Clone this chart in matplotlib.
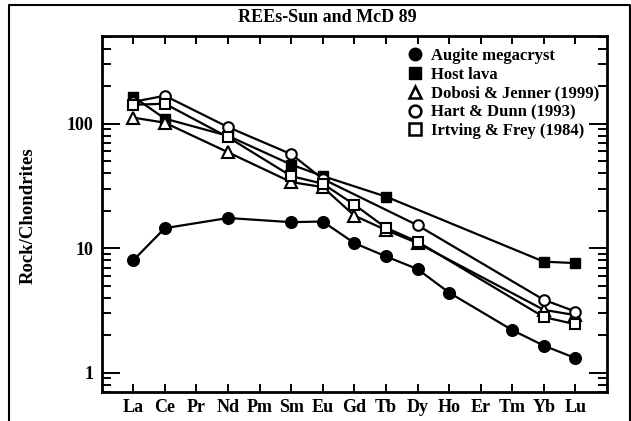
import matplotlib
matplotlib.use('Agg')
import matplotlib.pyplot as plt
from matplotlib.lines import Line2D
from matplotlib.ticker import LogLocator, NullFormatter, FixedLocator

plt.rcParams['font.family'] = ['Liberation Serif', 'DejaVu Serif']
plt.rcParams['font.weight'] = 'bold'

# 稀土元素顺序
elements = ['La', 'Ce', 'Pr', 'Nd', 'Pm', 'Sm', 'Eu', 'Gd', 'Tb', 'Dy', 'Ho', 'Er', 'Tm', 'Yb', 'Lu']

augite_el = ['La', 'Ce', 'Nd', 'Sm', 'Eu', 'Gd', 'Tb', 'Dy', 'Ho', 'Tm', 'Yb', 'Lu']
augite = [8.0, 14.5, 17.5, 16.2, 16.4, 11.0, 8.6, 6.8, 4.4, 2.2, 1.65, 1.31]

host_el = ['La', 'Ce', 'Nd', 'Sm', 'Eu', 'Tb', 'Yb', 'Lu']
host = [165, 110, 80, 47, 38, 26, 7.8, 7.6]

dobosi_el = ['La', 'Ce', 'Nd', 'Sm', 'Eu', 'Gd', 'Tb', 'Dy', 'Yb', 'Lu']
dobosi = [112, 102, 59, 34, 31, 18.3, 14.0, 11.0, 3.2, 2.9]

hart_el = ['La', 'Ce', 'Nd', 'Sm', 'Eu', 'Dy', 'Yb', 'Lu']
hart = [150, 168, 94, 57, 36, 15.3, 3.85, 3.1]

irving_el = ['La', 'Ce', 'Nd', 'Sm', 'Eu', 'Gd', 'Tb', 'Dy', 'Yb', 'Lu']
irving = [142, 145, 78, 38, 33, 22.4, 14.6, 11.3, 2.8, 2.45]

labels = ['Augite megacryst', 'Host lava', 'Dobosi & Jenner (1999)',
          'Hart & Dunn (1993)', 'Irtving & Frey (1984)']


def pos(names):
    return [elements.index(n) + 1 for n in names]


W, H = 631, 421
fig = plt.figure(figsize=(W / 100, H / 100), dpi=100)
ax = fig.add_axes([101.7 / W, 1 - 392 / H, (607 - 101.7) / W, (392 - 35.7) / H])

lw = 1.6
ax.plot(pos(augite_el), augite, '-o', color='k', lw=lw, ms=8.4, mfc='k', mec='k')
ax.plot(pos(host_el), host, '-s', color='k', lw=lw, ms=7.4, mfc='k', mec='k')
ax.plot(pos(dobosi_el), dobosi, '-^', color='k', lw=lw, ms=8, mfc='white', mec='k', mew=1.5)
ax.plot(pos(hart_el), hart, '-o', color='k', lw=lw, ms=7.6, mfc='white', mec='k', mew=1.5)
ax.plot(pos(irving_el), irving, '-s', color='k', lw=lw, ms=7.4, mfc='white', mec='k', mew=1.5)

ax.set_yscale('log')
ax.set_ylim(0.7, 510)
ax.set_xlim(0, 16)

ax.xaxis.set_major_locator(FixedLocator(range(1, 16)))
ax.set_xticklabels(elements, fontsize=13, fontweight='bold')
ax.yaxis.set_minor_locator(LogLocator(base=10, subs=range(2, 10), numticks=20))
ax.yaxis.set_minor_formatter(NullFormatter())
ax.set_yticks([1, 10, 100])
ax.set_yticklabels(['1', '10', '100'], fontsize=13, fontweight='bold')

ax.tick_params(axis='both', which='both', direction='in', top=True, right=True, width=1.4, color='k')
ax.tick_params(axis='y', which='major', length=13, pad=6)
ax.tick_params(axis='y', which='minor', length=6.5)
ax.tick_params(axis='x', which='major', length=6, pad=5)
for s in ax.spines.values():
    s.set_linewidth(2)

fig.text(28 / W, 1 - 216 / H, 'Rock/Chondrites', rotation=90, ha='center', va='center',
         fontsize=13.5, fontweight='bold')
fig.text(327 / W, 1 - 17 / H, 'REEs-Sun and McD 89', ha='center', va='center',
         fontsize=13, fontweight='bold')

handles = [
    Line2D([], [], ls='none', marker='o', ms=9, mfc='k', mec='k'),
    Line2D([], [], ls='none', marker='s', ms=8.5, mfc='k', mec='k'),
    Line2D([], [], ls='none', marker='^', ms=9, mfc='white', mec='k', mew=1.8),
    Line2D([], [], ls='none', marker='o', ms=8.5, mfc='white', mec='k', mew=1.8),
    Line2D([], [], ls='none', marker='s', ms=8.5, mfc='white', mec='k', mew=1.8),
]
ax.legend(handles, labels, loc='upper left', bbox_to_anchor=(408 / W, 1 - 48 / H),
          bbox_transform=fig.transFigure, frameon=False, handlelength=0.8,
          handletextpad=0.55, labelspacing=0.17, borderpad=0, borderaxespad=0,
          prop={'family': 'Liberation Serif', 'weight': 'bold', 'size': 12})

# 外框
fig.add_artist(Line2D([9 / W, 9 / W, 629.5 / W, 629.5 / W], [-0.1, 1 - 5 / H, 1 - 5 / H, -0.1],
                      transform=fig.transFigure, color='k', lw=1.5))

fig.savefig('out.png', dpi=100)
